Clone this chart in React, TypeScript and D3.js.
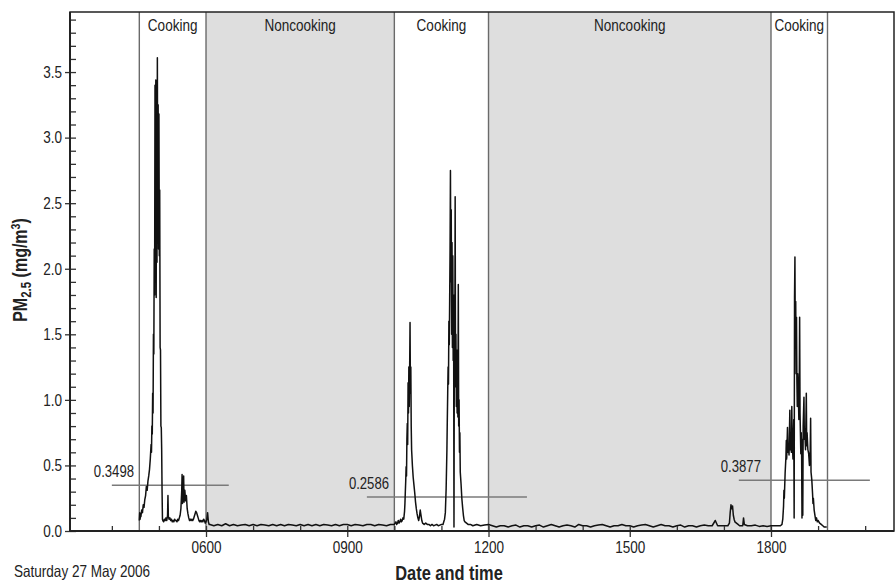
import React, { useEffect, useRef } from "react";
import * as d3 from "d3";

// PM2.5 readings (mg/m3) from the kitchen logger, Saturday 27 May 2006
const morningCooking: [string, number][] = [
  ["04:35:00", 0.08], ["04:35:30", 0.14], ["04:36:00", 0.09], ["04:36:30", 0.13],
  ["04:37:00", 0.11], ["04:38:00", 0.16], ["04:39:00", 0.14], ["04:40:00", 0.2],
  ["04:41:00", 0.18], ["04:42:00", 0.24], ["04:43:00", 0.27], ["04:44:00", 0.34],
  ["04:45:00", 0.31], ["04:46:00", 0.38], ["04:47:00", 0.42], ["04:48:00", 0.47],
  ["04:49:00", 0.55], ["04:50:00", 0.66], ["04:50:30", 0.6], ["04:51:00", 0.8],
  ["04:51:30", 0.74], ["04:52:00", 1.05], ["04:52:30", 0.9], ["04:53:00", 1.5],
  ["04:53:30", 1.35], ["04:54:00", 2.15], ["04:54:30", 1.8], ["04:55:00", 3.4],
  ["04:55:30", 2.1], ["04:56:00", 3.44], ["04:56:30", 1.78], ["04:57:00", 3.3],
  ["04:57:30", 2.05], ["04:58:00", 3.61], ["04:58:30", 2.2], ["04:59:00", 3.25],
  ["04:59:30", 2.15], ["05:00:00", 3.18], ["05:00:30", 2.1], ["05:01:00", 2.6],
  ["05:01:30", 1.4], ["05:02:00", 1.38], ["05:02:30", 0.8], ["05:03:00", 0.79],
  ["05:03:30", 0.62], ["05:04:00", 0.3], ["05:04:30", 0.09], ["05:05:00", 0.08],
  ["05:06:00", 0.07], ["05:07:00", 0.09], ["05:08:00", 0.08], ["05:09:00", 0.1],
  ["05:10:00", 0.08], ["05:11:00", 0.12], ["05:11:30", 0.27], ["05:12:00", 0.11],
  ["05:13:00", 0.09], ["05:14:00", 0.1], ["05:15:00", 0.08], ["05:16:00", 0.09],
  ["05:17:00", 0.07], ["05:18:00", 0.08], ["05:19:00", 0.07], ["05:20:00", 0.09],
  ["05:21:00", 0.08], ["05:22:00", 0.08], ["05:23:00", 0.07], ["05:24:00", 0.09],
  ["05:25:00", 0.08], ["05:26:00", 0.1], ["05:27:00", 0.12], ["05:28:00", 0.17],
  ["05:29:00", 0.3], ["05:29:30", 0.43], ["05:30:00", 0.21], ["05:30:30", 0.38],
  ["05:31:00", 0.24], ["05:31:30", 0.42], ["05:32:00", 0.22], ["05:33:00", 0.31],
  ["05:34:00", 0.23], ["05:35:00", 0.27], ["05:36:00", 0.17], ["05:37:00", 0.13],
  ["05:38:00", 0.1], ["05:39:00", 0.08], ["05:40:00", 0.09], ["05:41:00", 0.08],
  ["05:42:00", 0.09], ["05:43:00", 0.08], ["05:44:00", 0.09], ["05:45:00", 0.11],
  ["05:46:00", 0.13], ["05:47:00", 0.15], ["05:48:00", 0.14], ["05:49:00", 0.12],
  ["05:50:00", 0.1], ["05:51:00", 0.08], ["05:52:00", 0.07], ["05:53:00", 0.08],
  ["05:54:00", 0.07], ["05:55:00", 0.08], ["05:56:00", 0.07], ["05:57:00", 0.09],
  ["05:58:00", 0.08], ["05:59:00", 0.06], ["06:00:00", 0.07], ["06:01:00", 0.09],
  ["06:02:00", 0.14], ["06:03:00", 0.07], ["06:04:00", 0.05],
];

const morningQuiet: [string, number][] = [
  ["06:05", 0.05], ["06:10", 0.04], ["06:15", 0.05], ["06:20", 0.04], ["06:25", 0.055],
  ["06:30", 0.04], ["06:35", 0.05], ["06:40", 0.04], ["06:45", 0.045], ["06:50", 0.05],
  ["06:55", 0.04], ["07:00", 0.05], ["07:05", 0.04], ["07:10", 0.05], ["07:15", 0.045],
  ["07:20", 0.04], ["07:25", 0.05], ["07:30", 0.04], ["07:35", 0.05], ["07:40", 0.04],
  ["07:45", 0.05], ["07:50", 0.045], ["07:55", 0.04], ["08:00", 0.05], ["08:05", 0.04],
  ["08:10", 0.05], ["08:15", 0.04], ["08:20", 0.05], ["08:25", 0.04], ["08:30", 0.05],
  ["08:35", 0.045], ["08:40", 0.04], ["08:45", 0.05], ["08:50", 0.04], ["08:55", 0.05],
  ["09:00", 0.05], ["09:05", 0.04], ["09:10", 0.05], ["09:15", 0.045], ["09:20", 0.04],
  ["09:25", 0.05], ["09:30", 0.05], ["09:35", 0.04], ["09:40", 0.05], ["09:45", 0.045],
  ["09:50", 0.04], ["09:55", 0.05],
];

const middayCooking: [string, number][] = [
  ["10:00:00", 0.05], ["10:02:00", 0.07], ["10:03:00", 0.05], ["10:04:00", 0.06],
  ["10:05:00", 0.08], ["10:06:00", 0.06], ["10:07:00", 0.07], ["10:08:00", 0.09],
  ["10:09:00", 0.07], ["10:10:00", 0.08], ["10:11:00", 0.1], ["10:12:00", 0.09],
  ["10:13:00", 0.15], ["10:13:30", 0.21], ["10:14:00", 0.3], ["10:14:30", 0.38],
  ["10:15:00", 0.49], ["10:15:30", 0.42], ["10:16:00", 0.7], ["10:16:30", 0.82],
  ["10:17:00", 0.66], ["10:17:30", 1.13], ["10:18:00", 0.9], ["10:18:30", 1.25],
  ["10:19:00", 0.95], ["10:19:30", 1.22], ["10:20:00", 1.59], ["10:20:30", 1.05],
  ["10:21:00", 1.25], ["10:21:30", 0.8], ["10:22:00", 0.62], ["10:22:30", 0.56],
  ["10:23:00", 0.5], ["10:24:00", 0.41], ["10:25:00", 0.35], ["10:26:00", 0.29],
  ["10:27:00", 0.22], ["10:28:00", 0.17], ["10:29:00", 0.13], ["10:30:00", 0.1],
  ["10:31:00", 0.08], ["10:32:00", 0.11], ["10:33:00", 0.16], ["10:34:00", 0.12],
  ["10:35:00", 0.08], ["10:36:00", 0.06], ["10:38:00", 0.05], ["10:40:00", 0.06],
  ["10:42:00", 0.05], ["10:44:00", 0.05], ["10:46:00", 0.04], ["10:48:00", 0.05],
  ["10:50:00", 0.04], ["10:52:00", 0.045], ["10:54:00", 0.05], ["10:56:00", 0.04],
  ["10:58:00", 0.045], ["11:00:00", 0.05], ["11:02:00", 0.05], ["11:03:00", 0.07],
  ["11:04:00", 0.09], ["11:05:00", 0.14], ["11:06:00", 0.32], ["11:07:00", 0.62],
  ["11:07:30", 0.85], ["11:08:00", 1.05], ["11:08:30", 1.25], ["11:09:00", 1.12],
  ["11:09:30", 1.6], ["11:10:00", 1.42], ["11:10:30", 1.76], ["11:11:00", 2.14],
  ["11:11:30", 2.75], ["11:12:00", 1.9], ["11:12:30", 2.45], ["11:13:00", 1.5],
  ["11:13:30", 2.2], ["11:14:00", 1.4], ["11:14:30", 2.1], ["11:15:00", 1.3],
  ["11:15:30", 1.8], ["11:16:00", 0.03], ["11:16:30", 1.6], ["11:17:00", 1.2],
  ["11:17:30", 2.55], ["11:18:00", 1.1], ["11:18:30", 1.5], ["11:19:00", 0.95],
  ["11:19:30", 1.38], ["11:20:00", 0.9], ["11:20:30", 1.2], ["11:21:00", 0.87],
  ["11:21:30", 1.88], ["11:22:00", 0.8], ["11:22:30", 1.0], ["11:23:00", 0.6],
  ["11:23:30", 0.75], ["11:24:00", 0.45], ["11:25:00", 0.36], ["11:26:00", 0.25],
  ["11:27:00", 0.18], ["11:28:00", 0.12], ["11:29:00", 0.08], ["11:30:00", 0.07],
  ["11:32:00", 0.06], ["11:34:00", 0.05], ["11:37:00", 0.05],
];

const afternoonQuiet: [string, number][] = [
  ["11:40", 0.04], ["11:45", 0.05], ["11:50", 0.04], ["11:55", 0.045], ["12:00", 0.05],
  ["12:05", 0.04], ["12:10", 0.03], ["12:15", 0.04], ["12:20", 0.04], ["12:25", 0.03],
  ["12:30", 0.04], ["12:35", 0.045], ["12:40", 0.03], ["12:45", 0.04], ["12:50", 0.04],
  ["12:55", 0.03], ["13:00", 0.04], ["13:05", 0.045], ["13:10", 0.03], ["13:15", 0.04],
  ["13:20", 0.05], ["13:25", 0.04], ["13:30", 0.03], ["13:35", 0.04], ["13:40", 0.045],
  ["13:45", 0.04], ["13:50", 0.03], ["13:55", 0.05], ["14:00", 0.04], ["14:05", 0.04],
  ["14:10", 0.03], ["14:15", 0.04], ["14:20", 0.045], ["14:25", 0.05], ["14:30", 0.04],
  ["14:35", 0.03], ["14:40", 0.04], ["14:45", 0.04], ["14:50", 0.05], ["14:55", 0.04],
  ["15:00", 0.04], ["15:05", 0.03], ["15:10", 0.04], ["15:15", 0.045], ["15:20", 0.05],
  ["15:25", 0.04], ["15:30", 0.03], ["15:35", 0.04], ["15:40", 0.05], ["15:45", 0.04],
  ["15:50", 0.04], ["15:55", 0.03], ["16:00", 0.04], ["16:05", 0.045], ["16:10", 0.03],
  ["16:15", 0.04], ["16:20", 0.04], ["16:25", 0.03], ["16:30", 0.04], ["16:35", 0.045],
  ["16:40", 0.04], ["16:45", 0.04], ["16:49", 0.08], ["16:52", 0.04], ["16:55", 0.04],
  ["17:00", 0.04], ["17:05", 0.04], ["17:07", 0.06], ["17:08", 0.14], ["17:09", 0.2],
  ["17:10", 0.17], ["17:11", 0.19], ["17:12", 0.12], ["17:13", 0.09], ["17:14", 0.07],
  ["17:16", 0.06], ["17:18", 0.05], ["17:20", 0.04], ["17:24", 0.04], ["17:25", 0.1],
  ["17:26", 0.05], ["17:30", 0.04], ["17:35", 0.04], ["17:40", 0.045], ["17:45", 0.035],
  ["17:50", 0.04], ["17:55", 0.035], ["18:00", 0.04], ["18:05", 0.04], ["18:10", 0.04],
];

const eveningCooking: [string, number][] = [
  ["18:12:00", 0.04], ["18:14:00", 0.05], ["18:15:00", 0.09], ["18:16:00", 0.19],
  ["18:16:30", 0.31], ["18:17:00", 0.25], ["18:18:00", 0.44], ["18:19:00", 0.56],
  ["18:19:30", 0.69], ["18:20:00", 0.55], ["18:21:00", 0.79], ["18:21:30", 0.6],
  ["18:22:00", 0.65], ["18:23:00", 0.58], ["18:24:00", 0.92], ["18:24:30", 0.62],
  ["18:25:00", 0.66], ["18:26:00", 0.6], ["18:26:30", 0.95], ["18:27:00", 0.7],
  ["18:28:00", 0.55], ["18:29:00", 0.85], ["18:29:30", 0.1], ["18:30:00", 1.78],
  ["18:30:30", 2.09], ["18:31:00", 1.4], ["18:31:30", 1.75], ["18:32:00", 1.2],
  ["18:32:30", 1.63], ["18:33:00", 1.15], ["18:33:30", 0.95], ["18:34:00", 1.2],
  ["18:35:00", 1.0], ["18:35:30", 0.85], ["18:36:00", 1.1], ["18:36:30", 1.63],
  ["18:37:00", 0.9], ["18:38:00", 0.59], ["18:38:30", 0.75], ["18:39:00", 0.62],
  ["18:39:30", 0.1], ["18:40:00", 0.7], ["18:40:30", 0.12], ["18:41:00", 0.8],
  ["18:42:00", 1.02], ["18:42:30", 0.7], ["18:43:00", 0.78], ["18:44:00", 0.62],
  ["18:45:00", 1.05], ["18:45:30", 0.65], ["18:46:00", 0.75], ["18:47:00", 0.62],
  ["18:48:00", 0.59], ["18:49:00", 0.5], ["18:50:00", 0.62], ["18:50:30", 0.86],
  ["18:51:00", 0.45], ["18:52:00", 0.39], ["18:53:00", 0.28], ["18:53:30", 0.21],
  ["18:54:00", 0.25], ["18:55:00", 0.16], ["18:56:00", 0.12], ["18:57:00", 0.08],
  ["18:58:00", 0.1], ["18:59:00", 0.07], ["19:00:00", 0.08], ["19:02:00", 0.06],
  ["19:04:00", 0.05], ["19:06:00", 0.04], ["19:08:00", 0.03], ["19:11:00", 0.03],
];

// activity periods: label, start, end
const periods: [string, string, string][] = [
  ["Cooking", "04:35", "06:00"],
  ["Noncooking", "06:00", "10:00"],
  ["Cooking", "10:00", "12:00"],
  ["Noncooking", "12:00", "18:00"],
  ["Cooking", "18:00", "19:12"],
];

// mean concentration per cooking period
const meanValues = [0.3498, 0.2586, 0.3877];
const meanStarts = ["04:00", "09:25", "17:19"];
const meanEnds = ["06:29", "12:49", "20:06"];

const yMajorTicks = [0, 0.5, 1, 1.5, 2, 2.5, 3, 3.5];
const xMajorTicks = ["06:00", "09:00", "12:00", "15:00", "18:00"];

const FONT = "'Liberation Sans', Arial, sans-serif";
const SQUEEZE = 0.82; // narrow type like the original

const parseTime = d3.timeParse("%H:%M:%S");
const toTime = (s: string) => parseTime(s.length === 5 ? s + ":00" : s) as Date;

// squeeze plain text nodes horizontally
const condense = (sel: d3.Selection<any, any, any, any>) => {
  sel.each(function (this: SVGTextElement) {
    const w = this.getComputedTextLength();
    this.setAttribute("textLength", String(w * SQUEEZE));
    this.setAttribute("lengthAdjust", "spacingAndGlyphs");
  });
};

const App = () => {
  const chartRef = useRef<SVGSVGElement>(null);

  useEffect(() => {
    drawChart();
  }, []);

  const drawChart = () => {
    const width = 896;
    const height = 583;
    const margin = { top: 12, right: 2, bottom: 52, left: 70 };

    const svg = d3.select(chartRef.current);
    svg.selectAll("*").remove();
    svg.attr("width", width).attr("height", height);

    const x = d3
      .scaleTime()
      .domain([toTime("03:06:40"), toTime("20:36:45")])
      .range([margin.left, width - margin.right]);

    const y = d3
      .scaleLinear()
      .domain([0, 3.958])
      .range([height - margin.bottom, margin.top]);

    const y0 = y(0);
    const yTop = y.range()[1];

    // shaded noncooking bands
    svg
      .append("g")
      .selectAll("rect")
      .data(periods.filter((p) => p[0] === "Noncooking"))
      .enter()
      .append("rect")
      .attr("x", (d) => x(toTime(d[1])))
      .attr("y", yTop)
      .attr("width", (d) => x(toTime(d[2])) - x(toTime(d[1])))
      .attr("height", y0 - yTop)
      .attr("fill", "#dedede");

    // period boundaries
    const bounds = Array.from(new Set(periods.flatMap((p) => [p[1], p[2]])));
    svg
      .append("g")
      .selectAll("line")
      .data(bounds)
      .enter()
      .append("line")
      .attr("x1", (d) => x(toTime(d)))
      .attr("x2", (d) => x(toTime(d)))
      .attr("y1", yTop)
      .attr("y2", y0)
      .attr("stroke", "#6a6a6a")
      .attr("stroke-width", 1.4);

    // period labels
    svg
      .append("g")
      .selectAll("text")
      .data(periods)
      .enter()
      .append("text")
      .attr("x", (d) => (x(toTime(d[1])) + x(toTime(d[2]))) / 2)
      .attr("y", yTop + 19)
      .attr("text-anchor", "middle")
      .attr("font-family", FONT)
      .attr("font-size", 16.5)
      .attr("fill", "#222")
      .text((d) => d[0])
      .call(condense);

    // mean lines
    const means = meanValues.map((v, i) => ({ v, s: toTime(meanStarts[i]), e: toTime(meanEnds[i]) }));
    const meanG = svg.append("g");
    meanG
      .selectAll("line")
      .data(means)
      .enter()
      .append("line")
      .attr("x1", (d) => x(d.s))
      .attr("x2", (d) => x(d.e))
      .attr("y1", (d) => y(d.v))
      .attr("y2", (d) => y(d.v))
      .attr("stroke", "#7a7a7a")
      .attr("stroke-width", 1.5);
    meanG
      .selectAll("text")
      .data(means)
      .enter()
      .append("text")
      .attr("x", (d) => x(d.s) - 18)
      .attr("y", (d) => y(d.v) - 8)
      .attr("font-family", FONT)
      .attr("font-size", 16)
      .attr("fill", "#222")
      .text((d) => d.v.toFixed(4))
      .call(condense);

    // PM2.5 trace
    const readings = [
      ...morningCooking,
      ...morningQuiet,
      ...middayCooking,
      ...afternoonQuiet,
      ...eveningCooking,
    ].map(([t, v]) => ({ t: toTime(t), v }));

    const line = d3
      .line<{ t: Date; v: number }>()
      .x((d) => x(d.t))
      .y((d) => y(d.v));

    svg
      .append("path")
      .datum(readings)
      .attr("d", line)
      .attr("fill", "none")
      .attr("stroke", "#111")
      .attr("stroke-width", 1.5)
      .attr("stroke-linejoin", "round");

    // axes
    const yAxis = svg
      .append("g")
      .attr("transform", `translate(${margin.left},0)`)
      .call(
        d3
          .axisLeft(y)
          .tickValues(yMajorTicks)
          .tickSize(5)
          .tickPadding(3)
          .tickFormat(d3.format(".1f"))
      );
    yAxis.select(".domain").remove();

    const yMinor = svg
      .append("g")
      .attr("transform", `translate(${margin.left},0)`)
      .call(
        d3
          .axisRight(y)
          .tickValues(d3.range(0, 40).map((i) => i / 10))
          .tickSize(6)
          .tickFormat(() => "")
      );
    yMinor.select(".domain").remove();

    const xAxis = svg
      .append("g")
      .attr("transform", `translate(0,${y0})`)
      .call(
        d3
          .axisBottom(x)
          .tickValues(xMajorTicks.map(toTime))
          .tickSize(6)
          .tickPadding(4)
          .tickFormat(d3.timeFormat("%H%M") as any)
      );
    xAxis.select(".domain").remove();

    const xMinor = svg
      .append("g")
      .attr("transform", `translate(0,${y0})`)
      .call(d3.axisTop(x).ticks(d3.timeHour.every(1)).tickSize(5).tickFormat(() => ""));
    xMinor.select(".domain").remove();

    svg.selectAll(".tick line").attr("stroke", "#333").attr("stroke-width", 1.3);
    svg
      .selectAll(".tick text")
      .filter(function (this: any) { return this.textContent !== ""; })
      .attr("font-family", FONT)
      .attr("font-size", 16.5)
      .attr("fill", "#222")
      .call(condense);

    // frame
    svg
      .append("rect")
      .attr("x", margin.left)
      .attr("y", yTop)
      .attr("width", width - margin.right - margin.left)
      .attr("height", y0 - yTop)
      .attr("fill", "none")
      .attr("stroke", "#222")
      .attr("stroke-width", 1.5);
    svg
      .append("line")
      .attr("x1", margin.left)
      .attr("x2", width - margin.right)
      .attr("y1", y0)
      .attr("y2", y0)
      .attr("stroke", "#222")
      .attr("stroke-width", 2.2);
    svg
      .append("line")
      .attr("x1", margin.left)
      .attr("x2", margin.left)
      .attr("y1", yTop)
      .attr("y2", y0)
      .attr("stroke", "#222")
      .attr("stroke-width", 2);

    // titles
    svg
      .append("text")
      .attr("x", 449)
      .attr("y", 580)
      .attr("text-anchor", "middle")
      .attr("font-family", FONT)
      .attr("font-weight", "bold")
      .attr("font-size", 20)
      .attr("fill", "#222")
      .text("Date and time")
      .call(condense);

    svg
      .append("text")
      .attr("x", 14)
      .attr("y", 577)
      .attr("font-family", FONT)
      .attr("font-size", 16.5)
      .attr("fill", "#222")
      .text("Saturday 27 May 2006")
      .call(condense);

    const yLabel = svg
      .append("text")
      .attr("transform", `translate(27,270) rotate(-90) scale(${SQUEEZE},1)`)
      .attr("text-anchor", "middle")
      .attr("font-family", FONT)
      .attr("font-weight", "bold")
      .attr("font-size", 19.5)
      .attr("fill", "#222");
    yLabel.append("tspan").text("PM");
    yLabel.append("tspan").attr("dy", 4).attr("font-size", 14).text("2.5");
    yLabel.append("tspan").attr("dy", -4).text(" (mg/m");
    yLabel.append("tspan").attr("dy", -7).attr("font-size", 13).text("3");
    yLabel.append("tspan").attr("dy", 7).text(")");
  };

  return (
    <svg
      ref={chartRef}
      style={{ position: "absolute", left: 0, top: 0, background: "#fff" }}
    ></svg>
  );
};

export default App;
